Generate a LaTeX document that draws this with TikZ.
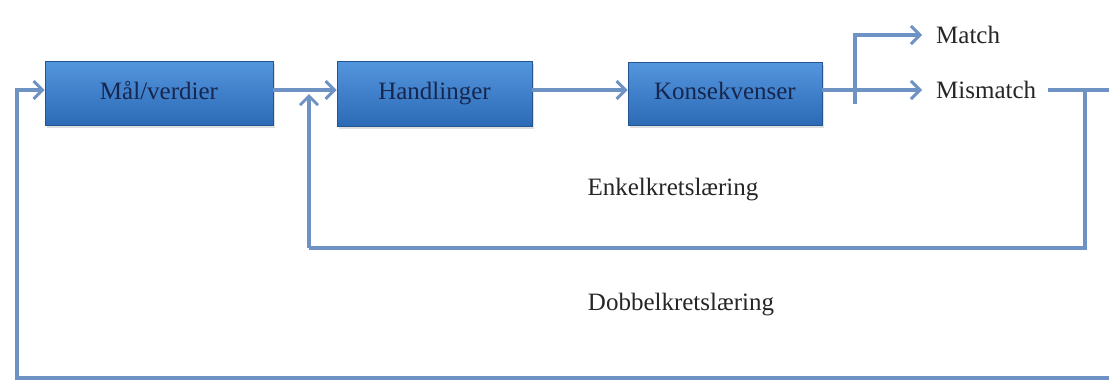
\documentclass[tikz,border=0pt]{standalone}
\usepackage{fontspec}
\setmainfont{Liberation Serif}
\usetikzlibrary{arrows.meta,shadows}
\definecolor{linecol}{RGB}{110,146,196}
\definecolor{boxtop}{RGB}{84,150,222}
\definecolor{boxbot}{RGB}{44,106,182}
\definecolor{boxtext}{RGB}{22,38,78}
\tikzset{
  blockbox/.style={rectangle, top color=boxtop, bottom color=boxbot, draw=boxbot!80!black, line width=0.6pt,
    text=boxtext, font=\fontsize{25}{28}\selectfont, inner sep=0pt, text height=17pt, text depth=5pt,
    drop shadow={shadow xshift=2pt, shadow yshift=-3pt, opacity=0.25}},
  lbl/.style={font=\fontsize{25}{28}\selectfont, text=black!85, inner sep=2pt},
  conn/.style={draw=linecol, line width=3.5pt},
  arr/.style={conn, -{Straight Barb[length=9pt,width=18pt,line width=3pt]}},
}
\begin{document}
\begin{tikzpicture}[x=1pt,y=-1pt]
\useasboundingbox (0,0) rectangle (1109,381);
\fill[white] (0,0) rectangle (1109,381);
\node[blockbox, minimum width=228pt, minimum height=64pt] (mal) at (159,93) {Mål/verdier};
\node[blockbox, minimum width=195pt, minimum height=65pt] (hand) at (434.5,93.5) {Handlinger};
\node[blockbox, minimum width=194pt, minimum height=63pt] (kons) at (725,93.5) {Konsekvenser};
\node[lbl, anchor=west] (match) at (934,35) {Match};
\node[lbl, anchor=west] (mismatch) at (934,90) {Mismatch};
\node[lbl] (enkel) at (673,190) {Enkelkretslæring};
\node[lbl] (dobbel) at (681,305) {Dobbelkretslæring};
\coordinate (mr) at (1109,90);
\coordinate (mt) at (1085,90);
\coordinate (mb) at (1085,248);
\coordinate (fb) at (309,248);
\coordinate (fbtop) at (309,94);
\coordinate (mbr) at (855,104);
\coordinate (ob) at (1109,378);
\coordinate (obl) at (17,378);
\coordinate (otl) at (17,90);
\coordinate (malin) at (mal.west |- otl);
\coordinate (konsout) at (kons.east |- mr);
\draw[arr] (mal.east |- otl) -- (hand.west |- otl);
\draw[arr] (hand.east |- otl) -- (kons.west |- otl);
\draw[arr, shorten >=12pt] (konsout) -- (mismatch.west |- mr);
\draw[arr, shorten >=12pt] (mbr) |- (match.west);
\draw[conn, shorten <=10pt] (mismatch.east |- mr) -- (mr);
\draw[conn, line join=miter] (mt) -- (mb) -- (fb);
\draw[arr] (fb) -- (fbtop);
\draw[arr, line join=miter] (ob) -- (obl) -- (otl) -- (malin);
\end{tikzpicture}
\end{document}
